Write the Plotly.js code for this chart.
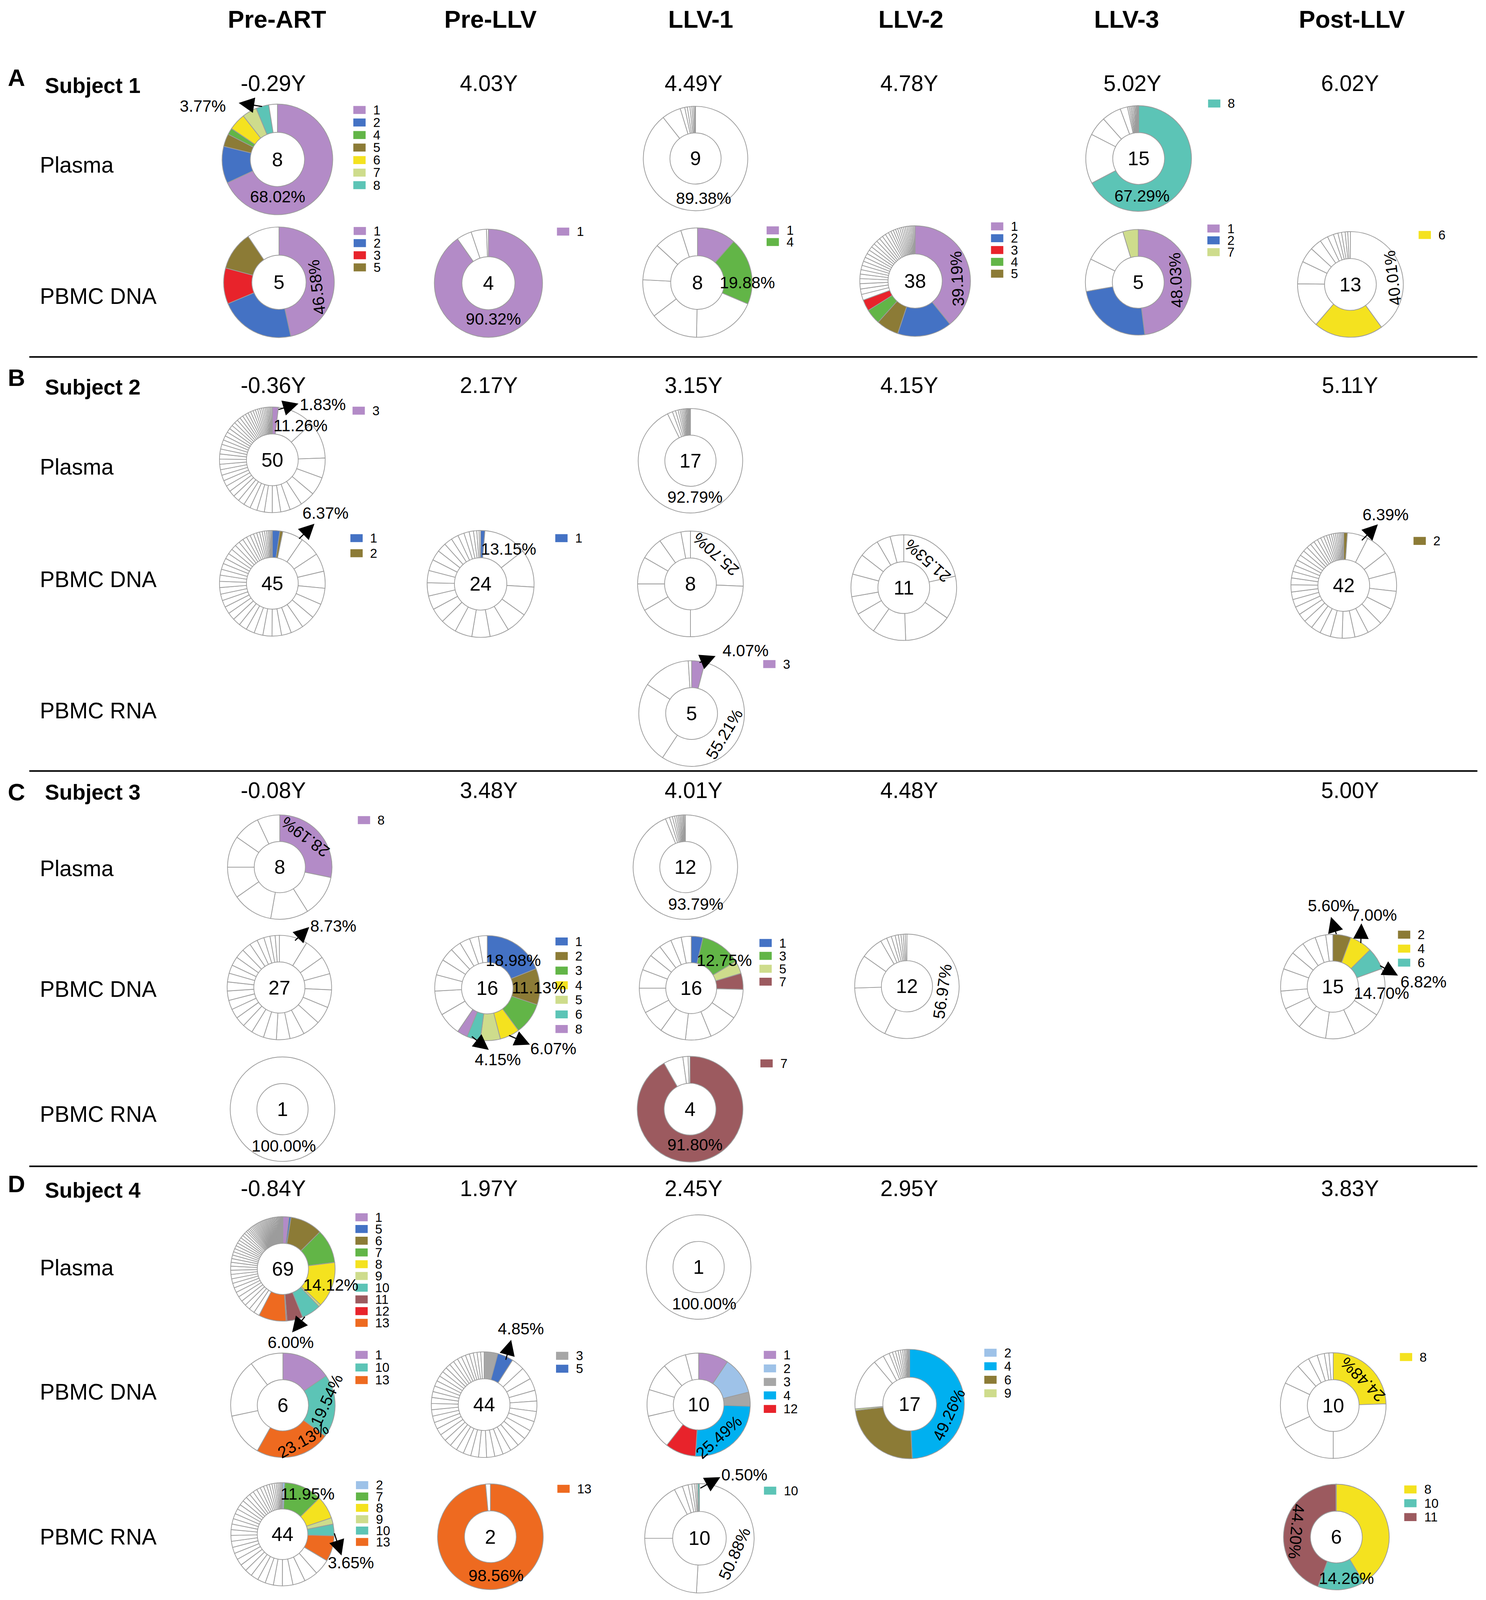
<!DOCTYPE html>
<html><head><meta charset="utf-8">
<script src="https://cdn.plot.ly/plotly-3.0.1.min.js"></script>
<style>html,body{margin:0;padding:0;background:#fff;overflow:hidden;}</style>
</head><body><div id="chart"></div>
<script>
// ---------------- DATA ----------------
const STAGES = ['Pre-ART','Pre-LLV','LLV-1','LLV-2','LLV-3','Post-LLV'];
const SUBJECTS = ['Subject 1','Subject 2','Subject 3','Subject 4'];
const PANELS = ['A','B','C','D'];
const S1_TIMES = ['-0.29Y','4.03Y','4.49Y','4.78Y','5.02Y','6.02Y'];
const S2_TIMES = ['-0.36Y','2.17Y','3.15Y','4.15Y','','5.11Y'];
const S3_TIMES = ['-0.08Y','3.48Y','4.01Y','4.48Y','','5.00Y'];
const S4_TIMES = ['-0.84Y','1.97Y','2.45Y','2.95Y','','3.83Y'];
const S1_ROWS = ['Plasma','PBMC DNA'];
const S2_ROWS = ['Plasma','PBMC DNA','PBMC RNA'];
const S3_ROWS = ['Plasma','PBMC DNA','PBMC RNA'];
const S4_ROWS = ['Plasma','PBMC DNA','PBMC RNA'];

// Each donut: clone id per slice (clockwise from 12 o'clock; null / missing = unshared variant, white) and slice percentages
const S1_PLASMA_PREART_CLONE = [1,2,5,4,6,7,8];
const S1_PLASMA_PREART_PCT = [68.02,10.8,3.7,1.9,5.0,4.3,3.77,2.51];
const S1_DNA_PREART_CLONE = [1,2,3,5];
const S1_DNA_PREART_PCT = [46.58,22.1,10.5,11.4,9.42];
const S1_DNA_PRELLV_CLONE = [1];
const S1_DNA_PRELLV_PCT = [90.32,4.5,4.6,0.58];
const S1_PLASMA_LLV1_CLONE = [];
const S1_PLASMA_LLV1_PCT = [89.38,5.9,1.4,0.8,0.8,0.6,0.5,0.38,0.24];
const S1_DNA_LLV1_CLONE = [1,4];
const S1_DNA_LLV1_PCT = [11.5,19.88,18.9,14.3,11.25,11.0,8.25,4.92];
const S1_DNA_LLV2_CLONE = [1,2,5,4,3];
const S1_DNA_LLV2_PCT = [39.19,15.9,6.55,4.45,3.3,1.7,1.6,1.55,1.47,1.32,1.3,1.28,1.25,1.22,1.2,1.18,1.15,1.12,1.1,1.08,1.05,1.02,1.0,0.8,0.75,0.7,0.65,0.62,0.58,0.55,0.52,0.5,0.47,0.44,0.41,0.38,0.35,0.3];
const S1_PLASMA_LLV3_CLONE = [8];
const S1_PLASMA_LLV3_PCT = [67.29,15.26,5.9,5.9,2.25,0.5,0.45,0.4,0.4,0.35,0.3,0.3,0.25,0.25,0.2];
const S1_DNA_LLV3_CLONE = [1,2,null,null,7];
const S1_DNA_LLV3_PCT = [48.03,24.2,10.0,13.07,4.7];
const S1_DNA_POST_CLONE = [null,6];
const S1_DNA_POST_PCT = [40.01,21.29,13.9,6.9,4.7,3.6,2.5,1.9,1.4,1.1,1.1,0.8,0.8];

const S2_PLASMA_PREART_CLONE = [3];
const S2_PLASMA_PREART_PCT = [1.83,11.26,11.36,6.1,5.6,4.6,3.79,2.9,2.6,2.4,2.3,2.2,2.1,2.0,1.95,1.9,1.85,1.8,1.75,1.7,1.65,1.6,1.55,1.5,1.45,1.4,1.35,1.3,1.25,1.2,1.15,1.1,1.05,1.0,0.95,0.9,0.85,0.8,0.75,0.7,0.65,0.6,0.55,0.5,0.45,0.4,0.38,0.35,0.33,0.3];
const S2_PLASMA_LLV1_CLONE = [];
const S2_PLASMA_LLV1_PCT = [92.79,1.6,1.0,0.8,0.6,0.5,0.45,0.4,0.35,0.3,0.28,0.25,0.2,0.18,0.12,0.1,0.08];
const S2_DNA_PREART_CLONE = [1,2];
const S2_DNA_PREART_PCT = [2.3,0.9,6.37,6.15,5.6,5.2,5.0,4.6,4.2,3.88,3.0,2.9,2.8,2.7,2.6,2.5,2.4,2.3,2.2,2.1,2.0,2.0,1.9,1.9,1.8,1.8,1.7,1.7,1.6,1.6,1.5,1.4,1.3,1.2,1.1,1.0,0.9,0.8,0.7,0.6,0.5,0.4,0.35,0.3,0.25];
const S2_DNA_PRELLV_CLONE = [1];
const S2_DNA_PRELLV_PCT = [1.3,13.15,11.5,8.9,6.5,5.8,5.5,5.2,4.8,4.5,4.2,4.0,3.7,3.4,3.1,2.8,2.5,2.2,1.9,1.6,1.3,1.0,0.7,0.45];
const S2_DNA_LLV1_CLONE = [];
const S2_DNA_LLV1_PCT = [25.70,24.3,16.7,8.3,8.3,6.9,6.9,2.9];
const S2_DNA_LLV2_CLONE = [];
const S2_DNA_LLV2_PCT = [21.53,13.2,14.7,10.3,6.9,5.6,6.9,6.4,6.1,4.2,4.17];
const S2_DNA_POST_CLONE = [2];
const S2_DNA_POST_PCT = [1.1,6.39,7.0,6.4,5.9,5.6,5.31,4.7,4.2,3.9,3.6,3.3,3.0,2.8,2.6,2.5,2.4,2.3,2.2,2.1,2.0,1.9,1.8,1.7,1.6,1.5,1.4,1.3,1.2,1.1,1.0,0.9,0.8,0.7,0.65,0.6,0.55,0.5,0.45,0.4,0.35,0.3];
const S2_RNA_LLV1_CLONE = [3];
const S2_RNA_LLV1_PCT = [4.07,55.21,25.0,14.7,1.02];

const S3_PLASMA_PREART_CLONE = [8];
const S3_PLASMA_PREART_PCT = [28.19,12.9,11.7,12.5,9.7,9.7,8.3,7.0];
const S3_PLASMA_LLV1_CLONE = [];
const S3_PLASMA_LLV1_PCT = [93.79,1.3,0.9,0.7,0.6,0.5,0.45,0.4,0.4,0.35,0.3,0.31];
const S3_DNA_PREART_CLONE = [];
const S3_DNA_PREART_PCT = [8.73,6.5,5.5,5.0,5.5,5.5,5.5,4.5,4.2,4.0,3.9,3.2,3.1,3.0,2.9,2.9,2.8,2.7,2.6,2.77,2.9,2.8,2.5,2.2,1.9,1.6,1.3];
const S3_DNA_PRELLV_CLONE = [1,2,3,4,5,6,8];
const S3_DNA_PRELLV_PCT = [18.98,11.13,9.8,6.07,6.17,4.15,3.2,7.1,7.5,5.0,4.9,4.1,3.25,3.2,2.75,2.7];
const S3_DNA_LLV1_CLONE = [1,3,5,7];
const S3_DNA_LLV1_PCT = [3.65,12.75,4.0,5.0,9.3,9.1,8.0,8.1,7.3,7.8,5.8,5.0,3.9,3.9,3.3,3.1];
const S3_DNA_LLV2_CLONE = [];
const S3_DNA_LLV2_PCT = [56.97,17.5,10.3,6.9,2.0,1.5,1.2,1.0,0.8,0.7,0.6,0.53];
const S3_DNA_POST_CLONE = [2,4,6];
const S3_DNA_POST_PCT = [5.60,7.00,6.82,14.70,8.9,9.2,8.9,6.9,5.6,6.9,5.6,4.2,4.2,3.3,2.18];
const S3_RNA_PREART_CLONE = [];
const S3_RNA_PREART_PCT = [100];
const S3_RNA_LLV1_CLONE = [7];
const S3_RNA_LLV1_PCT = [91.80,6.0,1.6,0.6];

const S4_PLASMA_PREART_CLONE = [1,5,6,7,8,9,10,11,12,13];
const S4_PLASMA_PREART_PCT = [1.9,0.6,10.0,10.52,14.12,0.7,6.00,4.9,0.3,8.5,1.8,1.75,1.7,1.65,1.6,1.55,1.5,1.45,1.4,1.35,1.3,1.25,1.2,1.15,1.1,1.05,1.0,1.0,0.95,0.95,0.9,0.9,0.85,0.8,0.6,0.55,0.5,0.5,0.45,0.45,0.42,0.42,0.4,0.4,0.38,0.38,0.36,0.36,0.35,0.35,0.34,0.34,0.33,0.33,0.32,0.32,0.31,0.31,0.3,0.3,0.29,0.28,0.27,0.26,0.25,0.24,0.23,0.22,0.2];
const S4_PLASMA_LLV1_CLONE = [];
const S4_PLASMA_LLV1_PCT = [100];
const S4_DNA_PREART_CLONE = [1,10,13];
const S4_DNA_PREART_PCT = [15.5,19.54,23.13,13.5,18.0,10.33];
const S4_DNA_PRELLV_CLONE = [3,5];
const S4_DNA_PRELLV_PCT = [4.2,4.85,4.0,3.8,3.75,3.3,3.2,3.1,3.0,2.9,2.8,2.7,2.6,2.55,2.5,2.45,2.4,2.35,2.3,2.25,2.2,2.15,2.1,2.05,2.0,1.95,1.9,1.85,1.8,1.75,1.7,1.65,1.6,1.55,1.5,1.45,1.4,1.35,1.3,1.25,1.2,1.15,1.1,1.05];
const S4_DNA_LLV1_CLONE = [1,2,3,4,12];
const S4_DNA_LLV1_PCT = [9.4,11.7,4.4,25.49,9.61,10.8,8.3,8.8,7.4,4.1];
const S4_DNA_LLV2_CLONE = [4,6,9,null,null,null,null,null,null,null,null,null,null,null,null,null,2];
const S4_DNA_LLV2_PCT = [49.26,23.84,0.5,15.3,3.1,1.9,1.0,0.9,0.8,0.7,0.6,0.5,0.4,0.35,0.3,0.25,0.3];
const S4_DNA_POST_CLONE = [8];
const S4_DNA_POST_PCT = [24.48,25.52,18.1,13.9,6.4,3.9,2.8,2.2,1.4,1.3];
const S4_RNA_PREART_CLONE = [2,7,8,9,10,13];
const S4_RNA_PREART_PCT = [0.7,11.95,7.2,2.0,3.65,8.05,5.0,4.3,3.9,3.3,2.8,2.6,2.5,2.4,2.3,2.2,2.1,2.0,1.95,1.9,1.85,1.8,1.75,1.7,1.65,1.6,1.55,1.5,1.45,1.4,1.35,1.3,1.2,1.1,1.0,0.9,0.8,0.7,0.6,0.5,0.45,0.4,0.35,0.3];
const S4_RNA_PRELLV_CLONE = [13];
const S4_RNA_PRELLV_PCT = [98.56,1.44];
const S4_RNA_LLV1_CLONE = [null,null,null,null,null,null,null,null,null,10];
const S4_RNA_LLV1_PCT = [50.88,24.1,17.5,2.5,1.7,1.1,0.8,0.5,0.42,0.50];
const S4_RNA_POST_CLONE = [8,10,11];
const S4_RNA_POST_PCT = [41.4,14.26,44.2,0.06,0.04,0.04];

// ---------------- STYLE / LAYOUT ----------------
const W = 3803, H = 5209;                 // design size (reference pixels)
const VW = Math.min(window.innerWidth || W, W), VH = Math.min(window.innerHeight || H, H);
const SX = VW / W, SY = VH / H, K = Math.min(SX, SY);   // positions follow the frame, sizes stay proportional
const FONT = 'Liberation Sans, Arial, Helvetica, sans-serif';
const COL = {purple:'#B38BC7', blue:'#4472C4', red:'#E8232B', green:'#62B547', olive:'#8C7B36', yellow:'#F4E21F',
  lime:'#CEDC8C', teal:'#5CC4B6', maroon:'#9C5A5F', sky:'#9EC2E8', grey:'#A6A6A6', cyan:'#00B0F0', orange:'#EE6A20'};
const PALETTES = [
  {1:COL.purple,2:COL.blue,3:COL.red,4:COL.green,5:COL.olive,6:COL.yellow,7:COL.lime,8:COL.teal},
  {1:COL.blue,2:COL.olive,3:COL.purple},
  {1:COL.blue,2:COL.olive,3:COL.green,4:COL.yellow,5:COL.lime,6:COL.teal,7:COL.maroon,8:COL.purple},
  {1:COL.purple,2:COL.sky,3:COL.grey,4:COL.cyan,5:COL.blue,6:COL.olive,7:COL.green,8:COL.yellow,9:COL.lime,10:COL.teal,11:COL.maroon,12:COL.red,13:COL.orange}
];
const TIMES = [S1_TIMES,S2_TIMES,S3_TIMES,S4_TIMES];
const ROWS = [S1_ROWS,S2_ROWS,S3_ROWS,S4_ROWS];
const STAGE_X = [709,1255,1793,2331,2883,3459];
const TIME_X = [699,1251,1775,2327,2898,3455];
const SUBJ_Y = [272,1254,2573,3869];
const PANEL_Y = [253,1229,2579,3854];
const ROW_Y = [[537,965],[1520,1886,2314],[2828,3221,3628],[4128,4532,5004]];
const SEP_Y = [1162,2510,3797];

// placement of every donut: center, radius, legend (x, first y, spacing), labels (slice index, position, angle, arrow [headX,headY,tailX,tailY])
const PLACE = [
 {c:S1_PLASMA_PREART_CLONE,p:S1_PLASMA_PREART_PCT,s:0,cx:710,cy:519,r:180,leg:[957,358,40.8],lab:[{i:0,x:711,y:640},{i:6,x:467,y:345,arr:[584,335,662,347]}]},
 {c:S1_DNA_PREART_CLONE,p:S1_DNA_PREART_PCT,s:0,cx:714,cy:919,r:180,leg:[957,752,39.5],lab:[{i:0,x:836,y:935,a:-97}]},
 {c:S1_DNA_PRELLV_CLONE,p:S1_DNA_PRELLV_PCT,s:0,cx:1250,cy:922,r:176,leg:[1473,754,40],lab:[{i:0,x:1266,y:1038}]},
 {c:S1_PLASMA_LLV1_CLONE,p:S1_PLASMA_LLV1_PCT,s:0,cx:1780,cy:516,r:170,leg:null,lab:[{i:0,x:1806,y:646}]},
 {c:S1_DNA_LLV1_CLONE,p:S1_DNA_LLV1_PCT,s:0,cx:1785,cy:920,r:178,leg:[2010,750,38],lab:[{i:1,x:1947,y:920}]},
 {c:S1_DNA_LLV2_CLONE,p:S1_DNA_LLV2_PCT,s:0,cx:2342,cy:915,r:180,leg:[2589,737,38.5],lab:[{i:0,x:2478,y:907,a:-93}]},
 {c:S1_PLASMA_LLV3_CLONE,p:S1_PLASMA_LLV3_PCT,s:0,cx:2914,cy:516,r:172,leg:[3140,337,40],lab:[{i:0,x:2925,y:638}]},
 {c:S1_DNA_LLV3_CLONE,p:S1_DNA_LLV3_PCT,s:0,cx:2913,cy:919,r:172,leg:[3138,744,38.5],lab:[{i:0,x:3035,y:912,a:-93}]},
 {c:S1_DNA_POST_CLONE,p:S1_DNA_POST_PCT,s:0,cx:3456,cy:926,r:172,leg:[3678,765,40],lab:[{i:0,x:3593,y:905,a:-97}]},

 {c:S2_PLASMA_PREART_CLONE,p:S2_PLASMA_PREART_PCT,s:1,cx:697,cy:1497,r:172,leg:[958,1337,40],lab:[{i:0,x:861,y:1317,arr:[782,1314,715,1334]},{i:1,x:788,y:1386}]},
 {c:S2_PLASMA_LLV1_CLONE,p:S2_PLASMA_LLV1_PCT,s:1,cx:1767,cy:1500,r:170,leg:null,lab:[{i:0,x:1782,y:1618}]},
 {c:S2_DNA_PREART_CLONE,p:S2_DNA_PREART_PCT,s:1,cx:697,cy:1899,r:172,leg:[951,1752,49],lab:[{i:2,x:870,y:1671,arr:[834,1705,782,1756]}]},
 {c:S2_DNA_PRELLV_CLONE,p:S2_DNA_PRELLV_PCT,s:1,cx:1230,cy:1901,r:174,leg:[1473,1752,40],lab:[{i:1,x:1321,y:1788}]},
 {c:S2_DNA_LLV1_CLONE,p:S2_DNA_LLV1_PCT,s:1,cx:1767,cy:1901,r:172,leg:null,lab:[{i:0,x:1850,y:1805,a:-138}]},
 {c:S2_DNA_LLV2_CLONE,p:S2_DNA_LLV2_PCT,s:1,cx:2313,cy:1913,r:172,leg:null,lab:[{i:0,x:2391,y:1826,a:-138}]},
 {c:S2_DNA_POST_CLONE,p:S2_DNA_POST_PCT,s:1,cx:3439,cy:1906,r:172,leg:[3666,1761,40],lab:[{i:1,x:3575,y:1676,arr:[3550,1707,3496,1761]}]},
 {c:S2_RNA_LLV1_CLONE,p:S2_RNA_LLV1_PCT,s:1,cx:1770,cy:2323,r:172,leg:[2003,2162,40],lab:[{i:0,x:1945,y:2118,arr:[1848,2136,1794,2158]},{i:1,x:1876,y:2390,a:-59}]},

 {c:S3_PLASMA_PREART_CLONE,p:S3_PLASMA_PREART_PCT,s:2,cx:716,cy:2823,r:170,leg:[970,2670,40],lab:[{i:0,x:800,y:2725,a:-143}]},
 {c:S3_PLASMA_LLV1_CLONE,p:S3_PLASMA_LLV1_PCT,s:2,cx:1754,cy:2823,r:170,leg:null,lab:[{i:0,x:1788,y:2944}]},
 {c:S3_DNA_PREART_CLONE,p:S3_DNA_PREART_PCT,s:2,cx:715,cy:3215,r:170,leg:null,lab:[{i:0,x:890,y:3014,arr:[812,3018,764,3064]}]},
 {c:S3_DNA_PRELLV_CLONE,p:S3_DNA_PRELLV_PCT,s:2,cx:1247,cy:3217,r:171,leg:[1469,3065,47.5],lab:[{i:0,x:1332,y:3126},{i:1,x:1415,y:3215},{i:3,x:1462,y:3414,arr:[1386,3401,1316,3370]},{i:5,x:1281,y:3449,arr:[1252,3418,1195,3373]}]},
 {c:S3_DNA_LLV1_CLONE,p:S3_DNA_LLV1_PCT,s:2,cx:1769,cy:3217,r:169,leg:[1991,3070,42],lab:[{i:1,x:1877,y:3126}]},
 {c:S3_DNA_LLV2_CLONE,p:S3_DNA_LLV2_PCT,s:2,cx:2321,cy:3211,r:170,leg:null,lab:[{i:0,x:2436,y:3228,a:-82}]},
 {c:S3_DNA_POST_CLONE,p:S3_DNA_POST_PCT,s:2,cx:3411,cy:3212,r:170,leg:[3623,3043,45.5],lab:[{i:0,x:3405,y:2948,arr:[3405,2985,3423,3043]},{i:1,x:3544,y:2979,arr:[3504,3006,3502,3072]},{i:2,x:3706,y:3197,arr:[3623,3176,3563,3143]},{i:3,x:3569,y:3234}]},
 {c:S3_RNA_PREART_CLONE,p:S3_RNA_PREART_PCT,s:2,cx:723,cy:3611,r:170,leg:null,lab:[{i:0,x:727,y:3731}]},
 {c:S3_RNA_LLV1_CLONE,p:S3_RNA_LLV1_PCT,s:2,cx:1766,cy:3611,r:172,leg:[1995,3462,40],lab:[{i:0,x:1782,y:3727}]},

 {c:S4_PLASMA_PREART_CLONE,p:S4_PLASMA_PREART_PCT,s:3,cx:724,cy:4131,r:170,leg:[960,3963,38.2],lab:[{i:4,x:880,y:4183},{i:6,x:750,y:4370,arr:[754,4338,797,4285]}]},
 {c:S4_PLASMA_LLV1_CLONE,p:S4_PLASMA_LLV1_PCT,s:3,cx:1788,cy:4125,r:170,leg:null,lab:[{i:0,x:1806,y:4245}]},
 {c:S4_DNA_PREART_CLONE,p:S4_DNA_PREART_PCT,s:3,cx:724,cy:4575,r:170,leg:[960,4411,41],lab:[{i:1,x:866,y:4558,a:-65},{i:2,x:790,y:4689,a:-29}]},
 {c:S4_DNA_PRELLV_CLONE,p:S4_DNA_PRELLV_PCT,s:3,cx:1239,cy:4573,r:172,leg:[1473,4414,42],lab:[{i:1,x:1358,y:4326,arr:[1327,4362,1309,4429]}]},
 {c:S4_DNA_LLV1_CLONE,p:S4_DNA_LLV1_PCT,s:3,cx:1788,cy:4573,r:168,leg:[2000,4411,44],lab:[{i:3,x:1853,y:4679,a:-42}]},
 {c:S4_DNA_LLV2_CLONE,p:S4_DNA_LLV2_PCT,s:3,cx:2328,cy:4571,r:178,leg:[2571,4404,44],lab:[{i:0,x:2456,y:4606,a:-65}]},
 {c:S4_DNA_POST_CLONE,p:S4_DNA_POST_PCT,s:3,cx:3412,cy:4576,r:172,leg:[3629,4418,40],lab:[{i:0,x:3508,y:4492,a:-135}]},
 {c:S4_RNA_PREART_CLONE,p:S4_RNA_PREART_PCT,s:3,cx:723,cy:4995,r:168,leg:[962,4835,37],lab:[{i:1,x:804,y:4864},{i:4,x:946,y:5088,arr:[915,5064,891,4990]}]},
 {c:S4_RNA_PRELLV_CLONE,p:S4_RNA_PRELLV_PCT,s:3,cx:1255,cy:5003,r:172,leg:[1473,4847,40],lab:[{i:0,x:1273,y:5130}]},
 {c:S4_RNA_LLV1_CLONE,p:S4_RNA_LLV1_PCT,s:3,cx:1790,cy:5008,r:178,leg:[2000,4853,40],lab:[{i:9,x:1936,y:4801,arr:[1858,4809,1791,4846]},{i:0,x:1904,y:5058,a:-66}]},
 {c:S4_RNA_POST_CLONE,p:S4_RNA_POST_PCT,s:3,cx:3420,cy:5004,r:172,leg:[3641,4849,45],lab:[{i:2,x:3290,y:4986,a:95},{i:1,x:3453,y:5139}]}
];

// ---------------- BUILD ----------------
// map a design point; points of a donut group keep their offsets from the group centre (scaled by K)
function map(x, y, g) {
  if (!g) return [x * SX, y * SY];
  return [g.cx * SX + (x - g.cx) * K, g.cy * SY + (y - g.cy) * K];
}
const px = X => X / VW, py = Y => 1 - Y / VH;
function txt(text, P, size, extra) {
  return Object.assign({text:text, x:px(P[0]), y:py(P[1]), xref:'paper', yref:'paper', showarrow:false,
    xanchor:'center', yanchor:'middle', font:{family:FONT, size:size * K, color:'#000'}}, extra || {});
}
const traces = [], annotations = [], shapes = [];

PLACE.forEach(d => {
  const pal = PALETTES[d.s];
  const colors = d.p.map((v, i) => (d.c[i] != null ? pal[d.c[i]] : '#FFFFFF'));
  const C = map(d.cx, d.cy, d), R = d.r * K;
  traces.push({
    type:'pie', values:d.p, labels:d.p.map((v, i) => 's' + i), sort:false, direction:'clockwise', rotation:0,
    hole:0.49, textinfo:'none', textposition:'none', hoverinfo:'skip', showlegend:false,
    marker:{colors:colors, line:{color:'#9c9c9c', width:2.4 * K}},
    domain:{x:[px(C[0] - R), px(C[0] + R)], y:[py(C[1] + R), py(C[1] - R)]}
  });
  annotations.push(txt(String(d.p.length), C, 64));
  d.lab.forEach(l => {
    annotations.push(txt(d.p[l.i].toFixed(2) + '%', map(l.x, l.y, d), 53, {textangle: l.a || 0}));
    if (l.arr) {
      const Hd = map(l.arr[0], l.arr[1], d), T = map(l.arr[2], l.arr[3], d);
      annotations.push({text:'', x:px(Hd[0]), y:py(Hd[1]), xref:'paper', yref:'paper', showarrow:true,
        ax:T[0] - Hd[0], ay:T[1] - Hd[1], arrowhead:2, arrowsize:2.8, arrowwidth:3.6 * K, arrowcolor:'#000', standoff:0});
    }
  });
  if (d.leg) {
    const ids = Array.from(new Set(d.c.filter(v => v != null))).sort((a, b) => a - b);
    const [lx, ly, sp] = d.leg;
    ids.forEach((id, k) => {
      const yy = ly + k * sp;
      const A = map(lx, yy - 13, d), B = map(lx + 40, yy + 13, d);
      shapes.push({type:'rect', xref:'paper', yref:'paper', x0:px(A[0]), x1:px(B[0]), y0:py(B[1]), y1:py(A[1]),
        fillcolor:pal[id], line:{width:0}});
      annotations.push(txt(String(id), map(lx + 62, yy, d), 42, {xanchor:'left'}));
    });
  }
});

STAGES.forEach((s, k) => annotations.push(txt('<b>' + s + '</b>', map(STAGE_X[k], 62), 80)));
SUBJECTS.forEach((s, k) => {
  annotations.push(txt('<b>' + PANELS[k] + '</b>', map(42, PANEL_Y[k]), 78));
  annotations.push(txt('<b>' + s + '</b>', map(113, SUBJ_Y[k] + 6), 70, {xanchor:'left'}));
  TIMES[k].forEach((t, j) => { if (t) annotations.push(txt(t, map(TIME_X[j], SUBJ_Y[k]), 72)); });
  ROWS[k].forEach((r, j) => annotations.push(txt(r, map(100, ROW_Y[k][j]), 72, {xanchor:'left'})));
});
SEP_Y.forEach(y => {
  const A = map(75, y), B = map(3781, y);
  shapes.push({type:'line', xref:'paper', yref:'paper', x0:px(A[0]), x1:px(B[0]), y0:py(A[1]), y1:py(B[1]),
    line:{color:'#000', width:5 * K}});
});

const div = document.getElementById('chart');
div.style.width = VW + 'px';
div.style.height = VH + 'px';
Plotly.newPlot(div, traces, {
  width:VW, height:VH, margin:{l:0, r:0, t:0, b:0}, paper_bgcolor:'#fff', plot_bgcolor:'#fff',
  showlegend:false, annotations:annotations, shapes:shapes, font:{family:FONT}
}, {displayModeBar:false, staticPlot:true});
</script></body></html>
